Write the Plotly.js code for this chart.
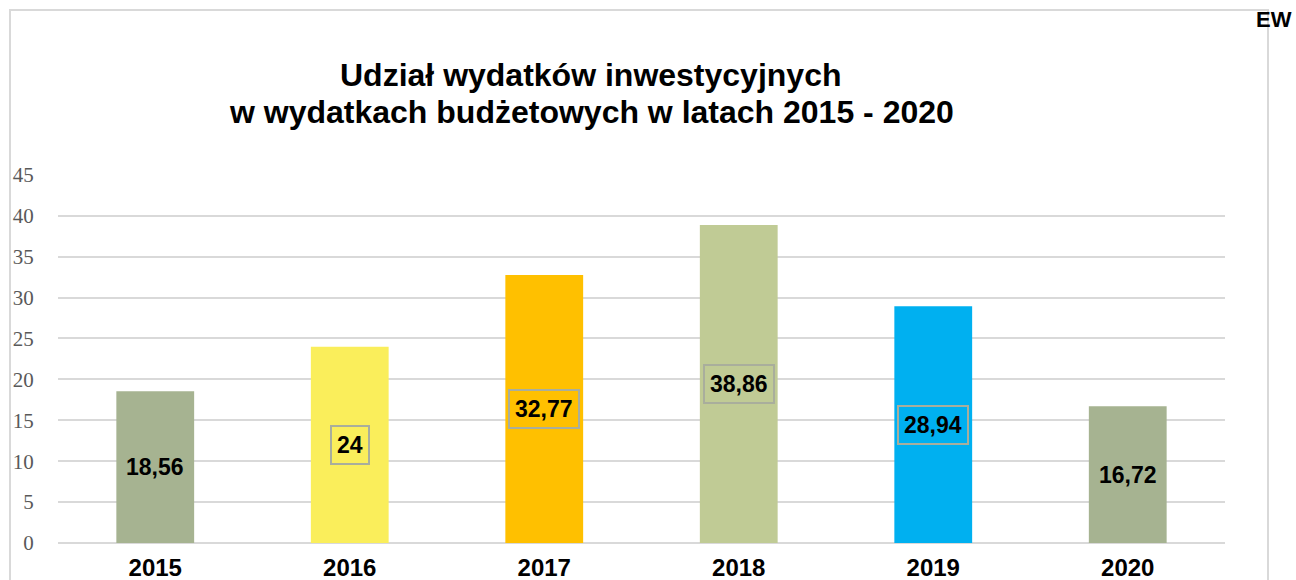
<!DOCTYPE html>
<html>
<head>
<meta charset="utf-8">
<script src="https://cdn.plot.ly/plotly-3.0.1.min.js"></script>
<style>
html,body{margin:0;padding:0;background:#fff;}
#chart{width:1296px;height:580px;}
</style>
</head>
<body>
<div id="chart"></div>
<script>
const years = ["2015", "2016", "2017", "2018", "2019", "2020"];
const values = [18.56, 24, 32.77, 38.86, 28.94, 16.72];
const labels = ["18,56", "24", "32,77", "38,86", "28,94", "16,72"];
const colors = ["#A6B391", "#FAEE5B", "#FFC000", "#C0CB95", "#00B0F0", "#A6B391"];
const labelBorders = ["#A6B391", "#A9AE9C", "#A9AE9C", "#A9AE9C", "#A9AE9C", "#A6B391"];
const yTicks = [0, 5, 10, 15, 20, 25, 30, 35, 40, 45];
const titleLines = ["Udział wydatków inwestycyjnych", "w wydatkach budżetowych w latach 2015 - 2020"];

const L = 58, R = 1225, T = 174, B = 543, W = 1296, H = 580;
const YMAX = 45.1;
const px = x => (x - L) / (R - L);
const py = y => (B - y) / (B - T);

const trace = {
  type: "bar",
  x: years,
  y: values,
  marker: {color: colors, line: {width: 0}},
  width: 0.4,
  hoverinfo: "none"
};

const annotations = years.map((yr, i) => ({
  x: i, y: values[i] / 2, xref: "x", yref: "y",
  text: labels[i], showarrow: false,
  font: {family: "Liberation Sans, Arial, sans-serif", size: 23, color: "#000", weight: 700},
  bgcolor: colors[i], bordercolor: labelBorders[i], borderwidth: 2, borderpad: 5,
  xanchor: "center", yanchor: "middle"
}));

annotations.push({
  x: px(590), y: py(75), xref: "paper", yref: "paper", showarrow: false,
  text: titleLines[0], xanchor: "center", yanchor: "middle",
  font: {family: "Liberation Sans, Arial, sans-serif", size: 32, color: "#000", weight: 700}
});
annotations.push({
  x: px(591), y: py(112), xref: "paper", yref: "paper", showarrow: false,
  text: titleLines[1], xanchor: "center", yanchor: "middle",
  font: {family: "Liberation Sans, Arial, sans-serif", size: 32, color: "#000", weight: 700}
});
annotations.push({
  x: px(1294), y: py(20), xref: "paper", yref: "paper", showarrow: false,
  text: "EW", xanchor: "right", yanchor: "middle",
  font: {family: "Liberation Sans, Arial, sans-serif", size: 22, color: "#000", weight: 700}
});

const layout = {
  width: W, height: H,
  margin: {l: L, r: W - R, t: T, b: H - B, pad: 0},
  paper_bgcolor: "#fff", plot_bgcolor: "#fff",
  showlegend: false,
  bargap: 0.6,
  xaxis: {
    type: "category",
    tickfont: {family: "Liberation Sans, Arial, sans-serif", size: 24, color: "#000", weight: 700},
    ticks: "outside", ticklen: 3, tickcolor: "rgba(0,0,0,0)",
    showgrid: false, showline: false, zeroline: false, fixedrange: true
  },
  yaxis: {
    range: [0, YMAX],
    tickvals: yTicks,
    ticktext: yTicks.map(String),
    tickfont: {family: "Liberation Serif, Times New Roman, serif", size: 21, color: "#595959"},
    ticks: "outside", ticklen: 19, tickcolor: "rgba(0,0,0,0)",
    showgrid: true, gridcolor: "#D9D9D9", gridwidth: 2,
    zeroline: true, zerolinecolor: "#D9D9D9", zerolinewidth: 2,
    showline: false, fixedrange: true
  },
  shapes: [{
    type: "rect", xref: "paper", yref: "paper", layer: "below",
    x0: px(10), x1: px(1268), y0: py(600), y1: py(10),
    line: {color: "#D9D9D9", width: 2}, fillcolor: "rgba(0,0,0,0)"
  }],
  annotations: annotations
};

Plotly.newPlot("chart", [trace], layout, {displayModeBar: false, staticPlot: true});
</script>
</body>
</html>
